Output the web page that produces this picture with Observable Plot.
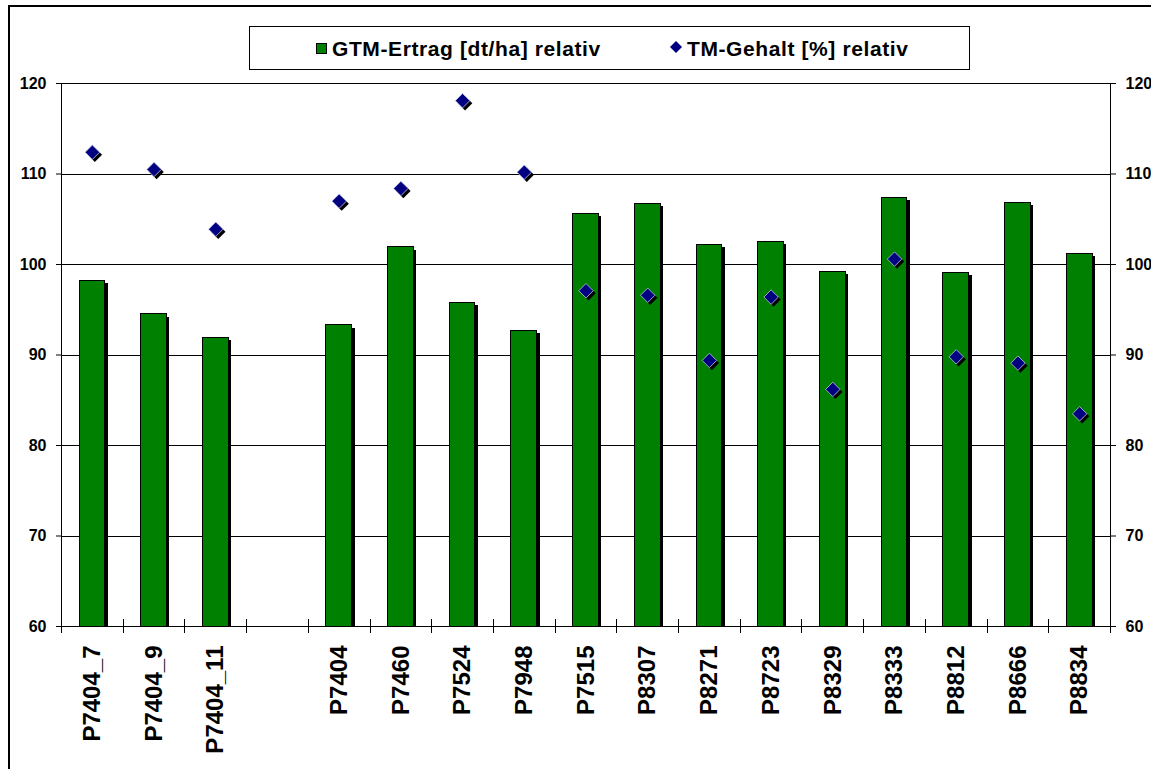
<!DOCTYPE html>
<html>
<head>
<meta charset="utf-8">
<script src="https://cdn.jsdelivr.net/npm/d3@7"></script>
<script src="https://cdn.jsdelivr.net/npm/@observablehq/plot@0.6"></script>
<style>
  body { margin: 0; background: #fff; font-family: "Liberation Sans", Arial, sans-serif; }
  #wrap { position: relative; width: 1151px; height: 769px; overflow: hidden; background: #fff; }
  #chart { position: absolute; left: 0; top: 0; }
  #frame { position: absolute; left: 8px; top: 5px; width: 1200px; height: 800px; border: 2px solid #000; pointer-events: none; }
  #legend { position: absolute; left: 249px; top: 26px; width: 721px; height: 44px; border: 1px solid #000; background: #fff; box-sizing: border-box; }
  .lg-text { position: absolute; font-weight: bold; font-size: 21px; line-height: 21px; letter-spacing: 0.6px; color: #000; white-space: nowrap; }
  .lg-sq { position: absolute; width: 11px; height: 11px; background: #008000; border: 1px solid #000; box-sizing: border-box; }
  .lg-dia { position: absolute; }
</style>
</head>
<body>
<div id="wrap">
  <div id="chart"></div>
  <div id="legend">
    <div class="lg-sq" style="left:66px; top:16px;"></div>
    <div class="lg-text" style="left:82px; top:11px;">GTM-Ertrag [dt/ha] relativ</div>
    <svg class="lg-dia" style="left:420px; top:14px;" width="12" height="12" viewBox="0 0 12 12"><polygon points="6,0 12,6 6,12 0,6" fill="#000080"/></svg>
    <div class="lg-text" style="left:437px; top:11px;">TM-Gehalt [%] relativ</div>
  </div>
  <div id="frame"></div>
</div>
<script>
const categories = ["P7404_7","P7404_9","P7404_11","","P7404","P7460","P7524","P7948","P7515","P8307","P8271","P8723","P8329","P8333","P8812","P8666","P8834"];
const gtmErtrag = [98.2, 94.5, 91.9, null, 93.3, 101.9, 95.8, 92.7, 105.6, 106.7, 102.2, 102.5, 99.2, 107.4, 99.1, 106.8, 101.2];
const tmGehalt  = [112.4, 110.5, 103.9, null, 107.0, 108.4, 118.1, 110.2, 97.1, 96.6, 89.4, 96.4, 86.2, 100.6, 89.8, 89.1, 83.5];
const yTicks = [60, 70, 80, 90, 100, 110, 120];
const gridValues = [70, 80, 90, 100, 110];

const rows = categories.map((c, i) => ({i, c, gtm: gtmErtrag[i], tm: tmGehalt[i]}));
const bars = rows.filter(d => d.gtm != null);
const pts = rows.filter(d => d.tm != null);
const labels = rows.filter(d => d.c);
const boundaries = d3.range(categories.length + 1);

const font = "'Liberation Sans', Arial, sans-serif";

const chart = Plot.plot({
  width: 1151,
  height: 769,
  marginTop: 83,
  marginBottom: 143,
  marginLeft: 61,
  marginRight: 41,
  style: {fontFamily: font, fontWeight: "bold", fontSize: "16px", color: "#000", background: "transparent", overflow: "visible"},
  x: {domain: [0, categories.length], axis: null},
  y: {domain: [60, 120], axis: null},
  marks: [
    Plot.ruleY(gridValues, {stroke: "#000", strokeWidth: 1, shapeRendering: "crispEdges"}),
    Plot.rectY(bars, {x1: d => d.i, x2: d => d.i + 1, y1: 60, y2: "gtm", insetLeft: 18, insetRight: 18, insetBottom: 3, dx: 3, dy: 3, fill: "#000", shapeRendering: "crispEdges"}),
    Plot.rectY(bars, {x1: d => d.i, x2: d => d.i + 1, y1: 60, y2: "gtm", insetLeft: 18, insetRight: 18, fill: "#008000", stroke: "#000", strokeWidth: 1, shapeRendering: "crispEdges"}),
    Plot.dot(pts, {x: d => d.i + 0.5, y: "tm", symbol: "diamond2", r: 6.5, fill: "#000", dx: 2.5, dy: 2.5}),
    Plot.dot(pts, {x: d => d.i + 0.5, y: "tm", symbol: "diamond2", r: 6.5, fill: "#000080", stroke: "#c8c8e8", strokeWidth: 0.8}),
    Plot.frame({stroke: "#000", strokeWidth: 1, shapeRendering: "crispEdges"}),
    Plot.ruleX(boundaries, {x: d => d, y1: 60, y2: 60, insetTop: 7, insetBottom: 7, stroke: "#000", strokeWidth: 1, shapeRendering: "crispEdges"}),
    Plot.axisY({anchor: "left", ticks: yTicks, tickSize: 5, tickPadding: 10, fontSize: 16, fontWeight: "bold", label: null, tickFormat: d => d}),
    Plot.axisY({anchor: "right", ticks: yTicks, tickSize: 5, tickPadding: 10, fontSize: 16, fontWeight: "bold", label: null, tickFormat: d => d}),
    Plot.text(labels, {x: d => d.i + 0.5, y: () => 60, text: "c", rotate: -90, textAnchor: "end", lineAnchor: "middle", dy: 19, fontSize: 24, fontWeight: "bold", fill: "#000"})
  ]
});
document.getElementById("chart").appendChild(chart);
</script>
</body>
</html>
